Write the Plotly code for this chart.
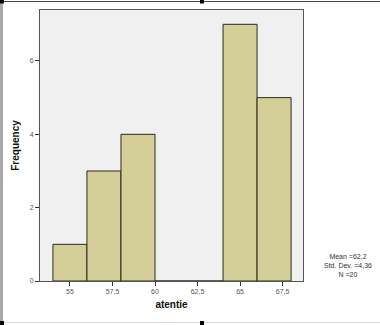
import plotly.graph_objects as go

bin_centers = [55, 57, 59, 61, 63, 65, 67]
counts = [1, 3, 4, 0, 0, 7, 5]
bin_width = 2
x_tickvals = [55, 57.5, 60, 62.5, 65, 67.5]
x_ticktext = ["55", "57,5", "60", "62,5", "65", "67,5"]
y_tickvals = [0, 2, 4, 6]
stats_lines = ["Mean =62,2", "Std. Dev. =4,36", "N =20"]

W, H = 380, 325
ml, mr, mt, mb = 40, 77, 10, 44
pw, ph = W - ml - mr, H - mt - mb


def px(x):
    return (x - ml) / pw


def py(y):
    return (H - mb - y) / ph


fig = go.Figure()
fig.add_trace(go.Bar(
    x=bin_centers, y=counts, width=bin_width,
    marker=dict(color="#D4CF98", line=dict(color="#2b2b1a", width=1)),
    hoverinfo="skip",
))

fig.update_layout(
    width=W, height=H,
    margin=dict(l=ml, r=mr, t=mt, b=mb),
    paper_bgcolor="white",
    plot_bgcolor="#F0F0F0",
    showlegend=False,
    font=dict(family="Liberation Sans, Arial, sans-serif", size=7, color="#555"),
    xaxis=dict(
        range=[53.24, 68.7],
        tickvals=x_tickvals, ticktext=x_ticktext,
        ticks="outside", ticklen=4, tickcolor="#333",
        showgrid=False, zeroline=False,
        showline=True, linecolor="#555", linewidth=1, mirror=True,
        tickfont=dict(size=7, color="#555"),
        title=dict(text="<b>atentie</b>", font=dict(size=10, color="#111"), standoff=6),
    ),
    yaxis=dict(
        range=[0, 7.39],
        tickvals=y_tickvals,
        ticks="outside", ticklen=4, tickcolor="#333",
        showgrid=False, zeroline=False,
        showline=True, linecolor="#555", linewidth=1, mirror=True,
        tickfont=dict(size=7, color="#555"),
        title=dict(text="<b>Frequency</b>", font=dict(size=10, color="#111"), standoff=8),
    ),
)

fig.add_annotation(
    x=px(348), y=py(265), xref="paper", yref="paper",
    xanchor="center", yanchor="middle",
    text="<br>".join(stats_lines), showarrow=False,
    font=dict(size=7, color="#333"), align="center",
)

# editor frame decorations (selection frame)
shapes = [
    dict(type="line", xref="paper", yref="paper", x0=px(0), x1=px(380), y0=py(1.5), y1=py(1.5),
         line=dict(color="#444", width=1)),
    dict(type="rect", xref="paper", yref="paper", x0=px(0), x1=px(3), y0=py(0), y1=py(325),
         fillcolor="#A8A8A8", line=dict(width=0)),
    dict(type="line", xref="paper", yref="paper", x0=px(0), x1=px(380), y0=py(322.5), y1=py(322.5),
         line=dict(color="#DADADA", width=1)),
]
for hx, hy in [(2, 1.5), (202, 1.5), (2, 323), (202, 323)]:
    shapes.append(dict(type="rect", xref="paper", yref="paper",
                       x0=px(hx - 2), x1=px(hx + 2), y0=py(hy - 2), y1=py(hy + 2),
                       fillcolor="black", line=dict(width=0)))
fig.update_layout(shapes=shapes)

fig.write_html("out.html")
